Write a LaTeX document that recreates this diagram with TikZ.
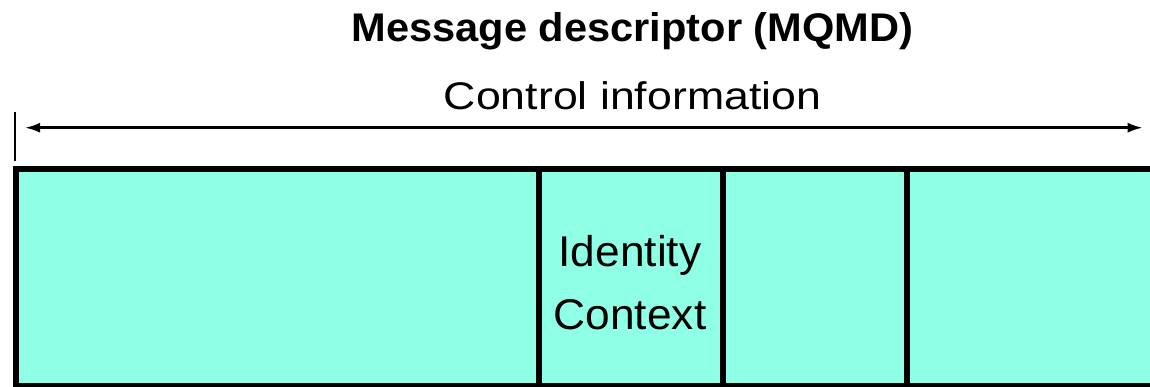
\documentclass[tikz,border=0pt]{standalone}
\usepackage{fontspec}
\setmainfont{Liberation Sans}
\newfontfamily\titlefont[FakeStretch=1.04]{Liberation Sans}
\newfontfamily\ctrlfont[FakeStretch=1.16]{Liberation Sans}
\newfontfamily\cellfont[FakeStretch=1.03]{Liberation Sans}
\usetikzlibrary{arrows.meta}
\definecolor{cellfill}{RGB}{143,255,229}
\tikzset{
  cell/.style={draw=black, line width=6pt, fill=cellfill, rectangle, inner sep=0pt, outer sep=0pt, anchor=north west, minimum height=216.8pt},
  lbl/.style={anchor=base, inner sep=0pt},
  dimline/.style={line width=2.4pt, {Latex[length=15pt,width=10pt]}-{Latex[length=15pt,width=10pt]}},
  tickline/.style={line width=2.3pt}
}
\begin{document}
\begin{tikzpicture}[x=1pt,y=-1pt]
\useasboundingbox (0,0) rectangle (1150,387);
\clip (0,0) rectangle (1150,387);
% cells
\node[cell, minimum width=523pt] (c1) at (16,169.5) {};
\node[cell, minimum width=184pt] (c2) at (539,169.5) {};
\node[cell, minimum width=184pt] (c3) at (723,169.5) {};
\node[cell, minimum width=260pt] (c4) at (907,169.5) {};
% labels
\node[lbl] (title) at (632.5,42) {\titlefont\bfseries\fontsize{40}{48}\selectfont Message descriptor (MQMD)};
\node[lbl] (ctrl) at (632.5,110) {\ctrlfont\fontsize{38.5}{46}\selectfont Control information};
\node[lbl] (id) at (630,266.7) {\cellfont\fontsize{43}{51}\selectfont Identity};
\node[lbl] (ctx) at (630,329) {\cellfont\fontsize{43}{51}\selectfont Context};
% dimension line
\coordinate (la) at (25,127.7);
\coordinate (ra) at (1142.7,127.7);
\draw[dimline] (la) -- (ra);
\coordinate (t1) at (15,111.7);
\coordinate (t2) at (15,161);
\draw[tickline] (t1) -- (t2);
\end{tikzpicture}
\end{document}
